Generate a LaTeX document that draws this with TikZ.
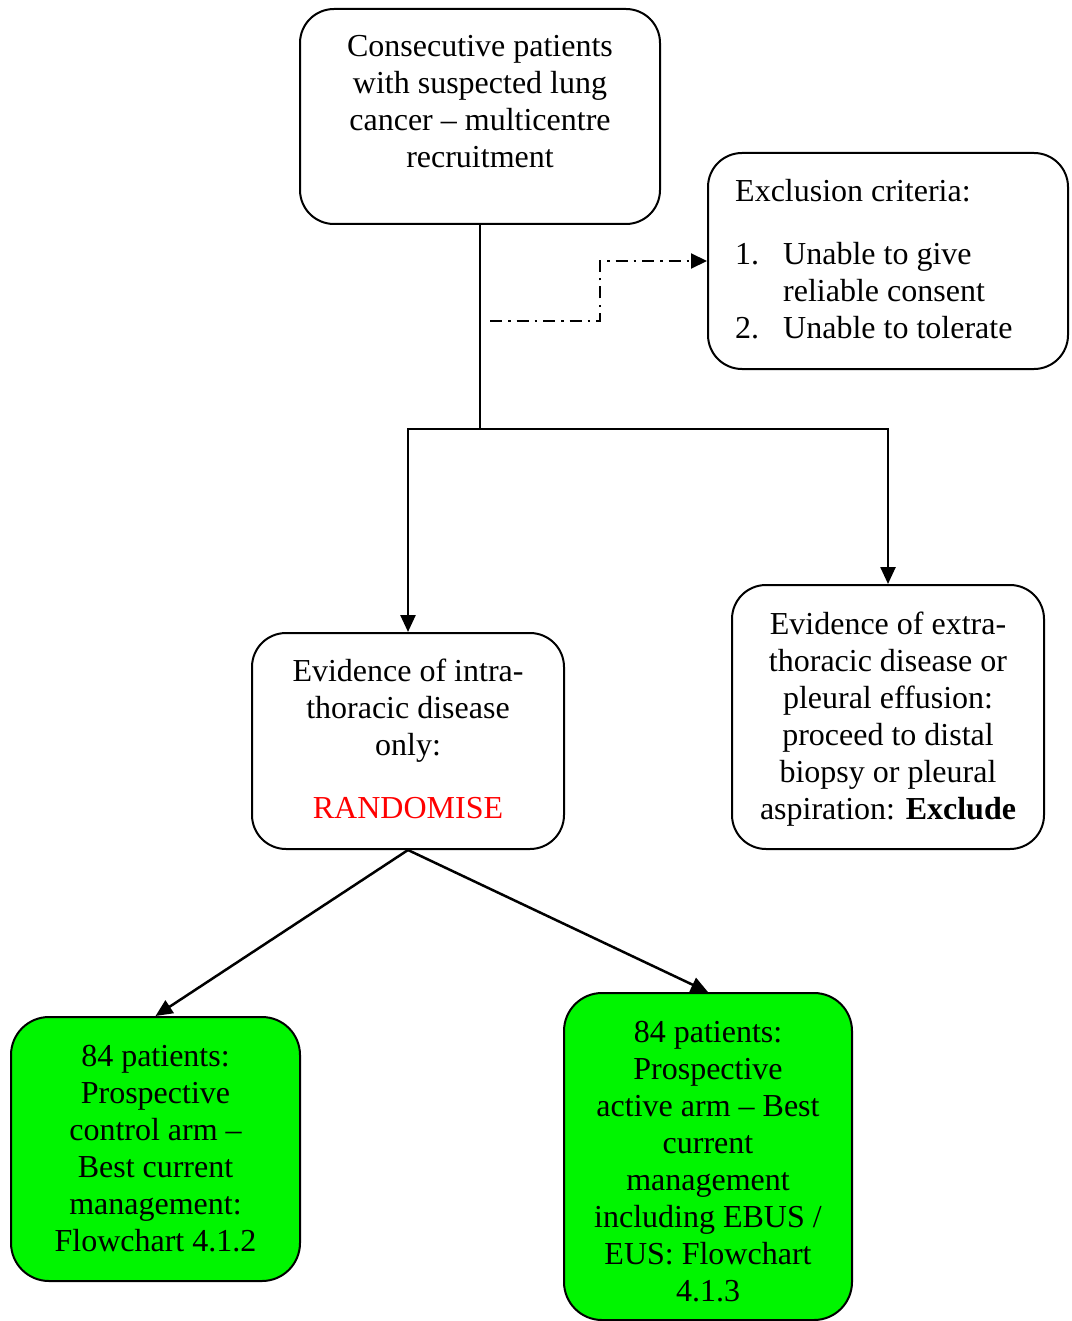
\documentclass[tikz,border=0pt]{standalone}
\usepackage{fontspec}
\setmainfont{Liberation Serif}
\usetikzlibrary{arrows.meta}
\definecolor{armgreen}{RGB}{0,245,0}
\begin{document}
\begin{tikzpicture}[x=1pt,y=-1pt,
  box/.style={draw=black, line width=2pt, rounded corners=34pt, inner sep=0pt},
  greenbox/.style={box, fill=armgreen, rounded corners=38pt},
  txt/.style={font=\fontsize{32}{37}\selectfont, align=center, inner sep=0pt,
    anchor=north, execute at begin node=\strut},
  link/.style={line width=2.5pt, -{Triangle[length=17pt,width=15pt]}},
  plain/.style={line width=2.5pt},
  dashlink/.style={line width=2pt, dash pattern=on 12pt off 6pt on 2.5pt off 6pt,
    -{Triangle[length=16pt,width=15pt]}}
]
\useasboundingbox (0,0) rectangle (1071,1321);

% boxes
\node[box, minimum width=360pt, minimum height=215pt] (recruit) at (480,116.5) {};
\node[box, minimum width=360pt, minimum height=216pt] (excl) at (888,261) {};
\node[box, minimum width=312pt, minimum height=216pt] (intra) at (408,741) {};
\node[box, minimum width=312pt, minimum height=264pt] (extra) at (888,717) {};
\node[greenbox, minimum width=289pt, minimum height=264pt] (control) at (155.5,1149) {};
\node[greenbox, minimum width=288pt, minimum height=327pt] (active) at (708,1156.5) {};

% texts
\node[txt] (recruitText) at (480,35) {Consecutive patients\\with suspected lung\\cancer -- multicentre\\recruitment};
\node[txt, anchor=north west, align=left] (exclText) at (735,179.5) {Exclusion criteria:\\[26pt]\makebox[48pt][l]{1.}Unable to give\\\hspace*{48pt}reliable consent\\\makebox[48pt][l]{2.}Unable to tolerate};
\node[txt] (intraText) at (408,659) {Evidence of intra-\\thoracic disease\\only:\\[26pt]\textcolor{red}{RANDOMISE}};
\node[txt] (extraText) at (888,612) {Evidence of extra-\\thoracic disease or\\pleural effusion:\\proceed to distal\\biopsy or pleural\\aspiration: \textbf{Exclude}};
\node[txt] (controlText) at (155.5,1045) {84 patients:\\Prospective\\control arm --\\Best current\\management:\\Flowchart 4.1.2};
\node[txt] (activeText) at (708,1021) {84 patients:\\Prospective\\active arm -- Best\\current\\management\\including EBUS /\\EUS: Flowchart\\4.1.3};

% connectors
\coordinate (split) at (480,429);
\coordinate (dstart) at (490,321);
\coordinate (dbend) at (600,321);
\draw[plain] (recruit.south) -- (split);
\draw[link] (split) -| (intra.north);
\draw[link] (split) -| (extra.north);
\draw[dashlink] (dstart) -- (dbend) |- (excl.west);
\draw[link] (intra.south) -- (control.north);
\draw[link] (intra.south) -- (active.north);
\end{tikzpicture}
\end{document}
